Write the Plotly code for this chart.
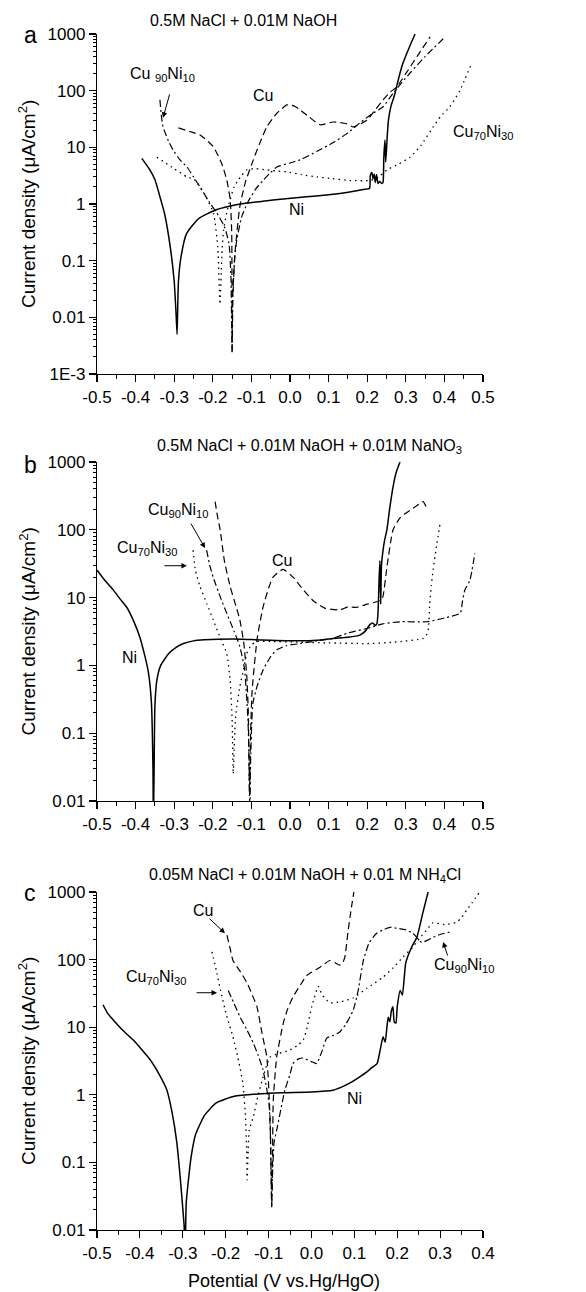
import numpy as np
import plotly.graph_objects as go

# ---------------- Panel a : 0.5M NaCl + 0.01M NaOH ----------------
ni_a_x = [-0.384, -0.365, -0.35, -0.335, -0.325, -0.31, -0.3, -0.295, -0.2925, -0.2905, -0.289, -0.283,
          -0.268, -0.237, -0.191, -0.129, -0.07, -0.018, 0.05, 0.1, 0.147, 0.19, 0.206, 0.208, 0.212,
          0.215, 0.218, 0.221, 0.224, 0.228, 0.232, 0.238, 0.241, 0.243, 0.246, 0.248, 0.252, 0.255, 0.262,
          0.267, 0.272, 0.285, 0.293, 0.31, 0.324]
ni_a_y = [6.4, 4.2, 2.7, 1.2, 0.68, 0.17, 0.043, 0.011, 0.005, 0.02, 0.043, 0.11, 0.3, 0.55, 0.79, 1.0,
          1.12, 1.23, 1.35, 1.45, 1.6, 1.8, 1.9, 3.2, 3.6, 2.8, 3.4, 2.4, 3.3, 2.3, 2.5, 2.3, 2.4, 6.5, 13.5,
          5.5, 16, 30, 55, 69, 90, 205, 310, 600, 1000]

cu_a_x = [-0.289, -0.26, -0.233, -0.199, -0.177, -0.164, -0.155, -0.151, -0.150, -0.149, -0.142, -0.13,
          -0.115, -0.095, -0.078, -0.06, -0.034, -0.008, 0.01, 0.026, 0.05, 0.078, 0.111, 0.147, 0.164,
          0.199, 0.22, 0.241, 0.26, 0.277, 0.3, 0.329, 0.363]
cu_a_y = [22, 19, 16.5, 10.3, 5.2, 2.7, 1.2, 0.31, 0.0023, 0.02, 0.15, 0.9, 2.5, 6, 12, 23, 40, 56, 54,
          46, 34, 25, 28, 26, 23, 30, 45, 69, 95, 117, 200, 400, 890]

c90_a_x = [-0.337, -0.333, -0.329, -0.315, -0.303, -0.285, -0.267, -0.25, -0.233, -0.21, -0.19, -0.17,
           -0.158, -0.153, -0.150, -0.148, -0.144, -0.138, -0.125, -0.11, -0.09, -0.07, -0.05, -0.034,
           0.0, 0.026, 0.07, 0.111, 0.15, 0.181, 0.21, 0.241, 0.267, 0.29, 0.311, 0.35, 0.402]
c90_a_y = [69, 35, 23, 13, 9, 6, 4.5, 3, 2, 1.1, 0.7, 0.4, 0.2, 0.05, 0.0025, 0.02, 0.1, 0.23, 0.6,
           1.05, 1.8, 2.6, 3.6, 4.5, 5.3, 6, 8.5, 12, 18, 27, 38, 52, 90, 140, 205, 400, 890]

c70_a_x = [-0.345, -0.3, -0.267, -0.248, -0.2215, -0.198, -0.187, -0.1815, -0.178, -0.176, -0.172,
           -0.164, -0.155, -0.145, -0.135, -0.125, -0.112, -0.09, -0.06, -0.03, -0.008, 0.03, 0.07, 0.11,
           0.155, 0.207, 0.23, 0.251, 0.28, 0.311, 0.34, 0.371, 0.39, 0.414, 0.44, 0.471]
c70_a_y = [6.7, 4.2, 3, 2.7, 1.5, 0.68, 0.17, 0.017, 0.06, 0.15, 0.35, 0.7, 1.2, 2.0, 2.6, 3.2, 4,
           4.2, 4, 3.8, 3.7, 3.3, 3.0, 2.8, 2.6, 2.6, 3.0, 4, 5, 6.7, 11, 23, 35, 52, 100, 310]

# ---------------- Panel b : + 0.01M NaNO3 ----------------
ni_b_x = [-0.5, -0.48, -0.458, -0.44, -0.423, -0.405, -0.389, -0.375, -0.367, -0.359, -0.355, -0.354,
          -0.352, -0.35, -0.345, -0.335, -0.314, -0.295, -0.276, -0.25, -0.222, -0.147, -0.1, -0.05,
          0.026, 0.07, 0.111, 0.15, 0.181, 0.195, 0.207, 0.215, 0.22, 0.225, 0.228, 0.231, 0.233, 0.235,
          0.237, 0.24, 0.245, 0.251, 0.258, 0.267, 0.275, 0.285]
ni_b_y = [25.5, 18, 13, 9.5, 7.2, 4.5, 2.6, 1.3, 0.8, 0.28, 0.03, 0.005, 0.03, 0.25, 0.6, 1.0, 1.5,
          1.85, 2.1, 2.3, 2.38, 2.45, 2.4, 2.35, 2.3, 2.35, 2.5, 2.6, 2.8, 3.2, 4, 4.2, 3.9, 4.1, 6, 20, 35,
          8, 30, 45, 70, 100, 200, 430, 700, 1000]

cu_b_x = [-0.194, -0.188, -0.181, -0.17, -0.155, -0.14, -0.13, -0.12, -0.112, -0.108, -0.105, -0.102,
          -0.099, -0.096, -0.085, -0.07, -0.055, -0.044, -0.018, 0.008, 0.03, 0.06, 0.09, 0.13, 0.15,
          0.173, 0.2, 0.233, 0.24, 0.251, 0.267, 0.285, 0.303, 0.325, 0.345, 0.352]
cu_b_y = [260, 160, 100, 35, 14.5, 7.5, 4.7, 2.2, 0.7, 0.2, 0.012, 0.1, 0.35, 0.6, 2.5, 7.2, 14, 20,
          26, 20, 14, 9, 7, 6.6, 7.3, 7.2, 8, 9, 10, 28, 100, 150, 180, 220, 260, 220]

c90_b_x = [-0.216, -0.208, -0.199, -0.18, -0.164, -0.145, -0.13, -0.118, -0.109, -0.106, -0.104,
           -0.102, -0.099, -0.096, -0.085, -0.07, -0.05, -0.034, -0.01, 0.026, 0.07, 0.111, 0.15, 0.199,
           0.24, 0.285, 0.355, 0.4, 0.441, 0.447, 0.453, 0.466, 0.479]
c90_b_y = [50, 30, 20, 10, 5.9, 3.2, 1.9, 0.9, 0.16, 0.04, 0.007, 0.04, 0.15, 0.28, 0.5, 0.85, 1.35,
           1.7, 1.95, 2.1, 2.3, 2.5, 3.0, 3.5, 4.1, 4.4, 4.4, 5.0, 5.9, 9, 13, 18, 45]

c70_b_x = [-0.251, -0.245, -0.233, -0.215, -0.199, -0.18, -0.164, -0.155, -0.150, -0.147, -0.144,
           -0.14, -0.13, -0.12, -0.112, -0.1, -0.086, -0.05, 0.026, 0.1, 0.199, 0.27, 0.345, 0.352,
           0.358, 0.362, 0.366, 0.371, 0.38, 0.389]
c70_b_y = [50, 25, 14.5, 8, 4.7, 2.5, 1.5, 0.6, 0.16, 0.025, 0.08, 0.2, 0.48, 0.9, 1.5, 2.0, 2.25,
           2.25, 2.2, 2.15, 2.1, 2.2, 2.5, 2.7, 3.3, 8, 15, 26, 60, 125]

# ---------------- Panel c : 0.05M NaCl + NH4Cl ----------------
ni_c_x = [-0.486, -0.475, -0.463, -0.44, -0.416, -0.395, -0.376, -0.355, -0.337, -0.325, -0.314,
          -0.306, -0.301, -0.297, -0.2945, -0.292, -0.2875, -0.2806, -0.270, -0.249, -0.222, -0.18,
          -0.125, -0.066, 0.0, 0.05, 0.07, 0.09, 0.11, 0.13, 0.14, 0.153, 0.16, 0.167, 0.172, 0.176,
          0.179, 0.183, 0.186, 0.19, 0.193, 0.197, 0.2, 0.207, 0.212, 0.22, 0.233, 0.246, 0.26, 0.272]
ni_c_y = [21.5, 16, 13, 9, 6.5, 4.6, 3.3, 2.0, 1.17, 0.55, 0.2, 0.06, 0.025, 0.012, 0.005, 0.025, 0.05,
          0.12, 0.26, 0.5, 0.76, 0.95, 1.03, 1.07, 1.1, 1.17, 1.3, 1.5, 1.8, 2.2, 2.5, 2.9, 4.5,
          7.2, 6, 10, 14, 12, 17, 20, 12, 11.5, 20, 35, 30, 90, 150, 215, 500, 1000]

cu_c_x = [-0.197, -0.19, -0.183, -0.165, -0.15, -0.138, -0.127, -0.115, -0.104, -0.0966, -0.094,
          -0.0927, -0.091, -0.089, -0.081, -0.0656, -0.055, -0.043, -0.025, -0.01, 0.02, 0.043, 0.055,
          0.066, 0.073, 0.078, 0.085, 0.09, 0.095, 0.099]
cu_c_y = [230, 150, 97, 65, 45, 30, 20, 8, 3.6, 0.47, 0.08, 0.022, 0.08, 0.83, 3.6, 11.5, 19, 28, 43,
          59, 77, 97, 90, 83, 90, 110, 250, 430, 700, 1000]

c90_c_x = [-0.194, -0.18, -0.166, -0.15, -0.136, -0.124, -0.113, -0.104, -0.099, -0.096, -0.094,
           -0.0927, -0.091, -0.087, -0.081, -0.062, -0.05, -0.043, -0.03, -0.019, 0.0, 0.012, 0.025,
           0.0356, 0.05, 0.066, 0.08, 0.0976, 0.109, 0.121, 0.135, 0.152, 0.17, 0.183, 0.2, 0.22, 0.237,
           0.257, 0.2815, 0.3, 0.327]
c90_c_y = [35, 22, 14, 9, 5.9, 3.8, 2.35, 1.2, 0.76, 0.3, 0.06, 0.022, 0.06, 0.2, 0.3, 1.17, 2.0, 2.9,
           3.4, 3.5, 3.1, 2.9, 4.5, 6.9, 7.5, 8.5, 11, 18, 35, 97, 180, 245, 280, 300, 290, 275, 245,
           180, 210, 235, 260]

c70_c_x = [-0.232, -0.222, -0.212, -0.198, -0.183, -0.17, -0.16, -0.154, -0.151, -0.150, -0.148,
           -0.145, -0.1355, -0.125, -0.113, -0.0966, -0.075, -0.05, -0.03, -0.019, -0.01, 0.0006, 0.016,
           0.025, 0.043, 0.07, 0.097, 0.13, 0.167, 0.19, 0.214, 0.235, 0.253, 0.27, 0.283, 0.31, 0.339,
           0.35, 0.362, 0.375, 0.392]
c70_c_y = [130, 70, 35, 15, 7.2, 3.2, 1.5, 0.5, 0.15, 0.055, 0.12, 0.3, 0.47, 0.95, 1.8, 3.6, 4.1, 4.6,
           5.5, 6.5, 10, 20, 40, 30, 23, 24, 27, 38, 55, 75, 110, 150, 210, 280, 350, 330, 360, 420, 540,
           700, 1000]

# ---------------- axes ticks ----------------
x_ticks_ab = [-0.5, -0.4, -0.3, -0.2, -0.1, 0.0, 0.1, 0.2, 0.3, 0.4, 0.5]
x_labels_ab = ["-0.5", "-0.4", "-0.3", "-0.2", "-0.1", "0.0", "0.1", "0.2", "0.3", "0.4", "0.5"]
x_ticks_c = [-0.5, -0.4, -0.3, -0.2, -0.1, 0.0, 0.1, 0.2, 0.3, 0.4]
x_labels_c = ["-0.5", "-0.4", "-0.3", "-0.2", "-0.1", "0.0", "0.1", "0.2", "0.3", "0.4"]
y_ticks_a = [1e-3, 1e-2, 1e-1, 1, 10, 100, 1000]
y_labels_a = ["1E-3", "0.01", "0.1", "1", "10", "100", "1000"]
y_ticks_bc = [1e-2, 1e-1, 1, 10, 100, 1000]
y_labels_bc = ["0.01", "0.1", "1", "10", "100", "1000"]
minor_mult = [2, 3, 4, 5, 6, 7, 8, 9]

titles = ["0.5M NaCl + 0.01M NaOH",
          "0.5M NaCl + 0.01M NaOH + 0.01M NaNO<sub>3</sub>",
          "0.05M NaCl + 0.01M NaOH + 0.01 M NH<sub>4</sub>Cl"]
panel_letters = ["a", "b", "c"]
y_title = "Current density (\u03bcA/cm<sup>2</sup>)"
x_title = "Potential (V vs.Hg/HgO)"

FONT = "Liberation Sans, Arial, Helvetica, sans-serif"
W, H = 586, 1292
X0, X1 = 97, 483
panels_px = [(34, 374), (462, 801), (892, 1230)]

styles = {
    "Ni": dict(color="black", width=1.5, dash="solid"),
    "Cu": dict(color="black", width=1.2, dash="7px,4px"),
    "C90": dict(color="black", width=1.2, dash="7px,3px,2px,3px"),
    "C70": dict(color="black", width=1.3, dash="1.5px,4px"),
}

data = [
    [("Ni", ni_a_x, ni_a_y), ("Cu", cu_a_x, cu_a_y), ("C90", c90_a_x, c90_a_y), ("C70", c70_a_x, c70_a_y)],
    [("Ni", ni_b_x, ni_b_y), ("Cu", cu_b_x, cu_b_y), ("C90", c90_b_x, c90_b_y), ("C70", c70_b_x, c70_b_y)],
    [("Ni", ni_c_x, ni_c_y), ("Cu", cu_c_x, cu_c_y), ("C90", c90_c_x, c90_c_y), ("C70", c70_c_x, c70_c_y)],
]

fig = go.Figure()
layout = dict(template="none", width=W, height=H, margin=dict(l=0, r=0, t=0, b=0, pad=0),
              paper_bgcolor="white", plot_bgcolor="white", showlegend=False,
              font=dict(family=FONT, color="black", size=16))
annotations = []
TICKFONT = dict(size=17, family=FONT, color="black")

for i in range(3):
    n = "" if i == 0 else str(i + 1)
    mid = str(i + 4)
    top, bot = panels_px[i]
    xdom = [X0 / W, X1 / W]
    ydom = [1 - bot / H, 1 - top / H]
    for key, xs, ys in data[i]:
        fig.add_trace(go.Scatter(x=xs, y=ys, mode="lines", line=dict(shape="spline", smoothing=0.5,
                                                                       **styles[key]),
                                 xaxis="x" + n, yaxis="y" + n, hoverinfo="skip"))
    if i < 2:
        xr, xt, xl = [-0.5, 0.5], x_ticks_ab, x_labels_ab
    else:
        xr, xt, xl = [-0.5, 0.4], x_ticks_c, x_labels_c
    if i == 0:
        yr, yt, yl = [-3, 3], y_ticks_a, y_labels_a
    else:
        yr, yt, yl = [-2, 3], y_ticks_bc, y_labels_bc
    minor_vals = [m * 10.0 ** k for k in range(yr[0], yr[1]) for m in minor_mult]
    layout["xaxis" + n] = dict(domain=xdom, range=xr, anchor="y" + n, showline=True, linecolor="black",
                               linewidth=1.2, ticks="outside", ticklen=7, tickwidth=1.2, tickcolor="black",
                               tickmode="array", tickvals=xt, ticktext=xl, showgrid=False, zeroline=False,
                               automargin=False, tickfont=TICKFONT,
                               minor=dict(tickmode="linear", tick0=-0.5, dtick=0.05, ticks="outside",
                                          ticklen=4, tickwidth=1, tickcolor="black", showgrid=False))
    layout["yaxis" + n] = dict(domain=ydom, type="log", range=yr, anchor="x" + n, showline=True,
                               linecolor="black", linewidth=1.2, ticks="outside", ticklen=7, tickwidth=1.2,
                               tickcolor="black", tickmode="array", tickvals=yt, ticktext=yl,
                               showgrid=False, zeroline=False, automargin=False, tickfont=TICKFONT)
    # minor log ticks on an overlaid axis
    layout["yaxis" + mid] = dict(domain=ydom, type="log", range=yr, anchor="x" + n, overlaying="y" + n,
                                 side="left", showline=False, ticks="outside", ticklen=3.5, tickwidth=1,
                                 tickcolor="black", tickmode="array", tickvals=minor_vals,
                                 showticklabels=False, showgrid=False, zeroline=False, automargin=False)
    fig.add_trace(go.Scatter(x=[None], y=[None], xaxis="x" + n, yaxis="y" + mid, showlegend=False,
                             hoverinfo="skip"))
    # panel title
    annotations.append(dict(text=titles[i], xref="paper", yref="paper",
                            x=[243, 309, 305][i] / W, y=1 - [21, 446, 875][i] / H,
                            showarrow=False, font=dict(size=16, family=FONT), xanchor="center",
                            yanchor="middle"))
    annotations.append(dict(text=panel_letters[i], xref="paper", yref="paper",
                            x=30 / W, y=1 - [35, 465, 893][i] / H, showarrow=False,
                            font=dict(size=23, family=FONT), xanchor="center", yanchor="middle"))
    annotations.append(dict(text=y_title, xref="paper", yref="paper", x=27 / W,
                            y=1 - (top + bot) / 2 / H, textangle=-90, showarrow=False,
                            font=dict(size=19, family=FONT), xanchor="center", yanchor="middle"))

annotations.append(dict(text=x_title, xref="paper", yref="paper", x=284 / W, y=1 - 1281 / H,
                        showarrow=False, font=dict(size=18, family=FONT), xanchor="center",
                        yanchor="middle"))

CU90 = "Cu<sub>90</sub>Ni<sub>10</sub>"
CU70 = "Cu<sub>70</sub>Ni<sub>30</sub>"
# (panel, text, x, log10 y)
labels = [
    (0, "Cu <sub>90</sub>Ni<sub>10</sub>", -0.33, 2.29),
    (0, "Cu", -0.07, 1.92),
    (0, "Ni", 0.018, -0.09),
    (0, CU70, 0.5, 1.27),
    (1, CU90, -0.29, 2.29),
    (1, CU70, -0.37, 1.73),
    (1, "Cu", -0.021, 1.55),
    (1, "Ni", -0.415, 0.11),
    (2, "Cu", -0.253, 2.73),
    (2, CU70, -0.362, 1.74),
    (2, CU90, 0.356, 1.92),
    (2, "Ni", 0.10, -0.05),
]
for p, t, x, ly in labels:
    n = "" if p == 0 else str(p + 1)
    annotations.append(dict(text=t, x=x, y=ly, xref="x" + n, yref="y" + n, showarrow=False,
                            font=dict(size=16, family=FONT), xanchor="center", yanchor="middle"))

# arrows (panel, head x, head log10 y, ax, ay)
arrows = [
    (0, -0.329, 1.52, 7, -25),
    (1, -0.22, 1.73, -15, -26),
    (1, -0.267, 1.47, -24, 0),
    (2, -0.2016, 2.39, -17, -16),
    (2, -0.22, 1.51, -22, 0),
    (2, 0.307, 2.26, 5, 15),
]
for p, x, ly, ax, ay in arrows:
    n = "" if p == 0 else str(p + 1)
    annotations.append(dict(text="", x=x, y=ly, xref="x" + n, yref="y" + n, showarrow=True,
                            ax=ax, ay=ay, arrowhead=2, arrowsize=1.1, arrowwidth=1,
                            arrowcolor="black", standoff=0, startstandoff=0))

layout["annotations"] = annotations
fig.update_layout(**layout)
fig.write_html("out.html", config={"displayModeBar": False, "staticPlot": True},
               post_script="document.body.style.margin='0px';document.body.style.overflow='hidden';")
